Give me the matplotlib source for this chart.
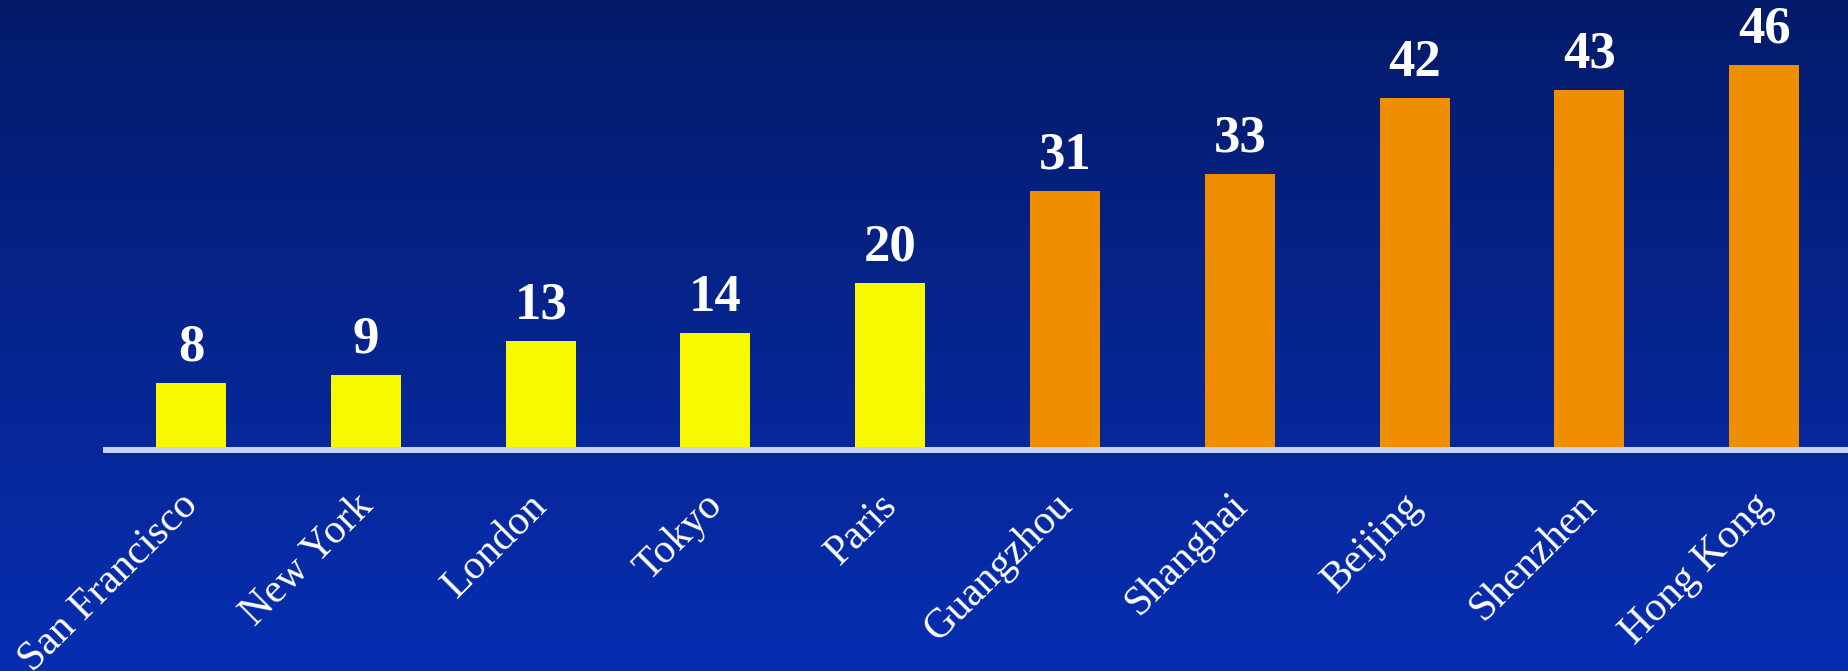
import matplotlib.pyplot as plt
import numpy as np

cities = ['San Francisco', 'New York', 'London', 'Tokyo', 'Paris',
          'Guangzhou', 'Shanghai', 'Beijing', 'Shenzhen', 'Hong Kong']
values = [8, 9, 13, 14, 20, 31, 33, 42, 43, 46]
groups = ['west'] * 5 + ['china'] * 5
group_colors = {'west': '#f8f800', 'china': '#ee8e00'}

fig = plt.figure(figsize=(18.49, 6.71), dpi=100)

# gradient background
bg = fig.add_axes([0, 0, 1, 1])
bg.set_axis_off()
top = np.array([4, 27, 106]) / 255
bottom = np.array([7, 46, 178]) / 255
t = np.linspace(0, 1, 256)[:, None]
grad = top * (1 - t) + bottom * t
bg.imshow(grad[:, None, :].repeat(2, axis=1), aspect='auto', extent=[0, 1, 0, 1])

ax = fig.add_axes([0, 0, 1, 1])
ax.set_axis_off()
ax.patch.set_alpha(0)

x = np.arange(len(cities))
colors = [group_colors[g] for g in groups]
ax.bar(x, values, width=0.40, color=colors, zorder=2)
ax.hlines(0, -0.503, 9.6, color='#c9d3f2', lw=4.3, zorder=3)

ax.set_xlim(-1.093, 9.485)
ax.set_ylim(-26.4, 53.76)

for xi, v in zip(x, values):
    ax.annotate(str(v), (xi, v), xytext=(0, 16), textcoords='offset points',
                ha='center', va='baseline', color='white', fontsize=38,
                fontweight='bold', family='Liberation Serif')

for xi, name in zip(x, cities):
    ax.annotate(name, (xi, 0), xytext=(-9, -26), textcoords='offset points',
                ha='right', va='top', rotation=45, rotation_mode='anchor',
                color='white', fontsize=30, family='Liberation Serif')

fig.savefig('out.png', dpi=100)
